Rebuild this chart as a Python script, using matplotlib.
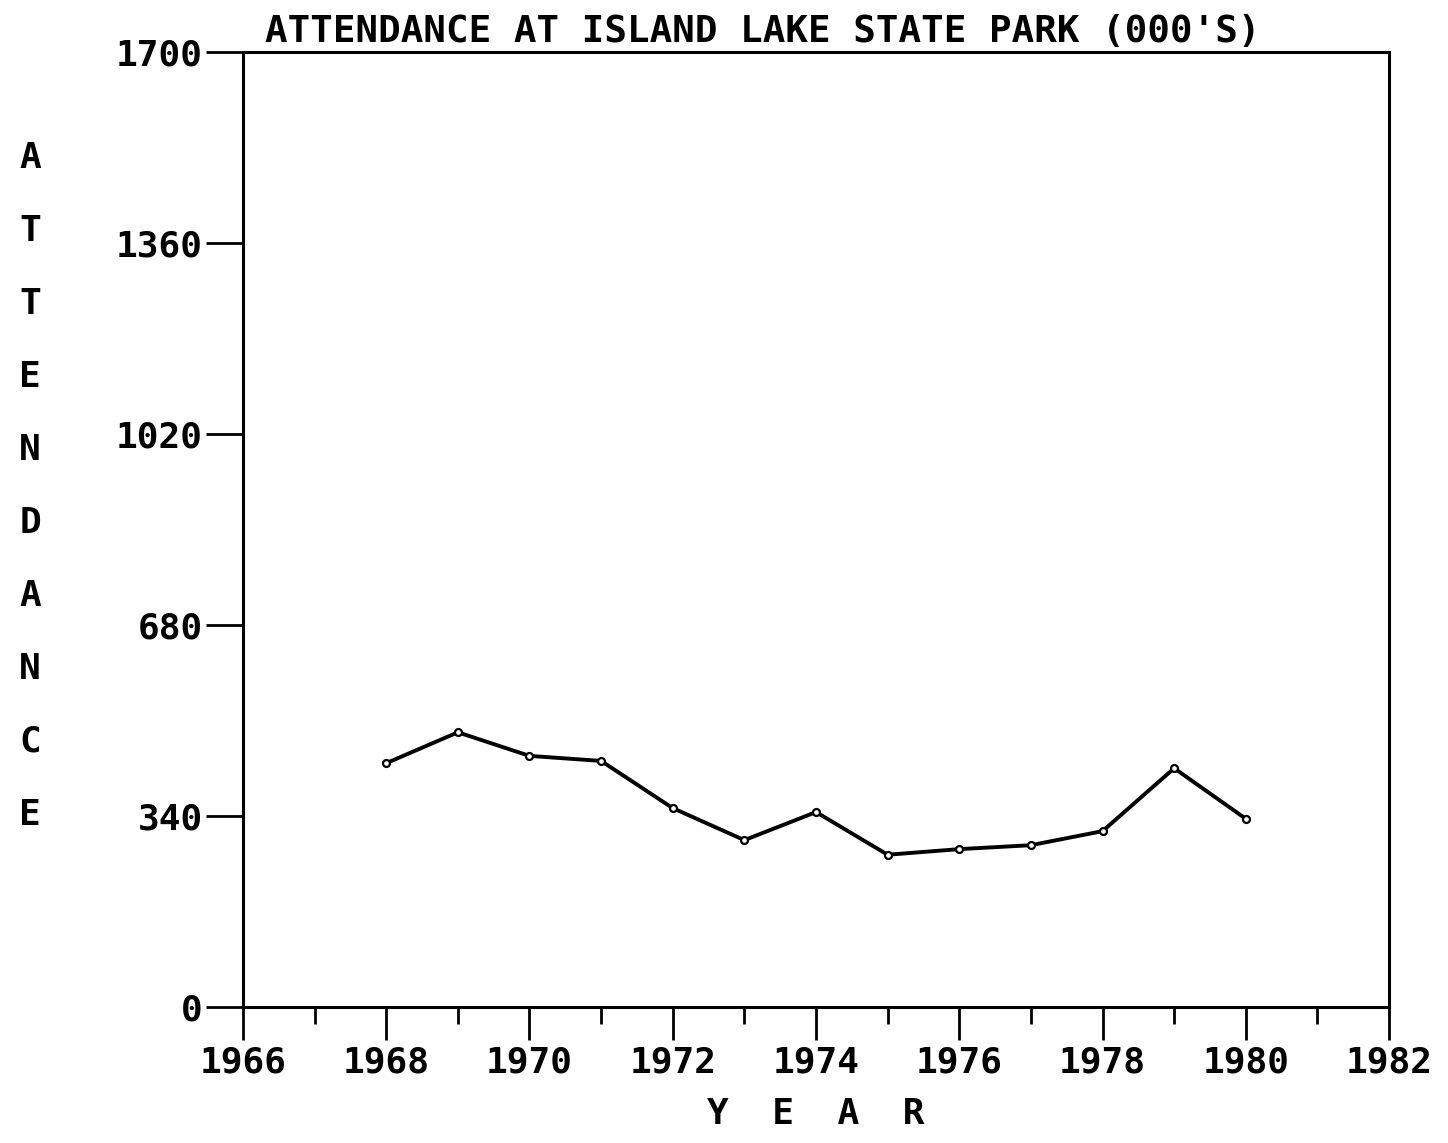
import matplotlib
matplotlib.use("Agg")
import matplotlib.pyplot as plt
from matplotlib.ticker import MultipleLocator

years = [1968, 1969, 1970, 1971, 1972, 1973, 1974, 1975, 1976, 1977, 1978, 1979, 1980]
attendance = [434, 489, 447, 438, 354, 297, 347, 271, 281, 288, 313, 425, 335]
y_ticks = [0, 340, 680, 1020, 1360, 1700]
x_ticks = list(range(1966, 1983, 2))

plt.rcParams['font.family'] = 'DejaVu Sans Mono'
plt.rcParams['font.weight'] = 'bold'
plt.rcParams['axes.labelweight'] = 'bold'

fig = plt.figure(figsize=(14.48, 11.43), dpi=100)
ax = fig.add_axes([0.1678, 0.119, 0.7915, 0.8355])

ax.plot(years, attendance, color='black', linewidth=2.8,
        marker='o', markersize=5, markerfacecolor='white', markeredgewidth=1.6)

ax.set_xlim(1966, 1982)
ax.set_ylim(0, 1700)
ax.set_xticks(x_ticks)
ax.xaxis.set_minor_locator(MultipleLocator(1))
ax.set_yticks(y_ticks)

ax.tick_params(axis='x', which='major', direction='out', length=24, width=2, labelsize=26, pad=4)
ax.tick_params(axis='x', which='minor', direction='out', length=12, width=2)
ax.tick_params(axis='y', direction='out', length=27, width=2, labelsize=26, pad=2)
for s in ax.spines.values():
    s.set_linewidth(2.2)

fig.text(265 / 1448, 1 - 50 / 1143, "ATTENDANCE AT ISLAND LAKE STATE PARK (000'S)",
         fontsize=27, ha='left', va='bottom')

ax.set_xlabel("Y  E  A  R", fontsize=26, labelpad=12)

for i, ch in enumerate("ATTENDANCE"):
    fig.text(30 / 1448, 1 - (158 + i * 73) / 1143, ch, fontsize=26, ha='center', va='center')

fig.savefig("out.png", dpi=100, facecolor='white')
